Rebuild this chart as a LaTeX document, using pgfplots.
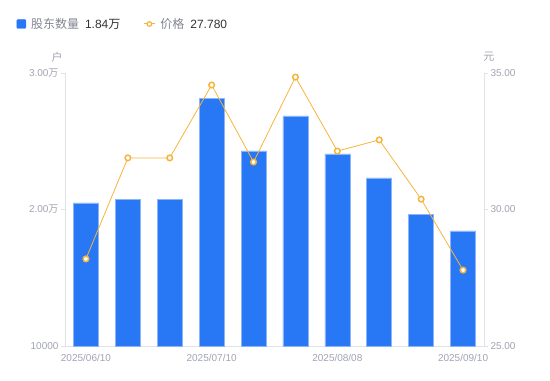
\documentclass[border=0pt]{standalone}
\usepackage{pgfplots}
\pgfplotsset{compat=1.18}
\usepackage{fontspec}
\setmainfont{Liberation Sans}
\newfontfamily\cjk{Noto Sans CJK SC}
\definecolor{barblue}{RGB}{40,120,245}
\definecolor{barborder}{RGB}{140,180,248}
\definecolor{lineorange}{RGB}{246,180,60}
\definecolor{axisgray}{RGB}{224,226,230}
\definecolor{tickgray}{RGB}{160,163,178}
\definecolor{leggray}{RGB}{130,133,145}
\definecolor{darktext}{RGB}{50,50,55}
\begin{document}
\begin{tikzpicture}
\useasboundingbox (0,0) rectangle (550bp,381bp);
\begin{axis}[
  at={(65bp,35bp)}, anchor=south west,
  scale only axis, width=419bp, height=273bp,
  xmin=-0.5, xmax=9.5, ymin=10000, ymax=30000,
  axis y line*=left, axis x line*=bottom,
  axis line style={axisgray, line width=0.8pt, -},
  xtick={0,3,6,9},
  xticklabels={2025/06/10,2025/07/10,2025/08/08,2025/09/10},
  x tick style={draw=none},
  ytick={10000,20000,30000},
  scaled y ticks=false,
  yticklabels={10000,2.00{\cjk 万},3.00{\cjk 万}},
  y tick style={axisgray, line width=0.8pt},
  major tick length=4bp,
  tick align=outside,
  ticklabel style={font=\fontsize{10bp}{12bp}\selectfont, text=tickgray},
  yticklabel style={xshift=1bp},
  xticklabel style={yshift=-1bp},
  clip=false,
]
\addplot[ybar, bar width=25bp, fill=barblue, draw=barborder, line width=0.6pt] coordinates {
 (0,20476) (1,20769) (2,20769) (3,28168) (4,24286) (5,26850) (6,24066) (7,22308) (8,19670) (9,18425)};
\node[font=\cjk\fontsize{11bp}{13bp}\selectfont, text=tickgray] at (rel axis cs:-0.019,1.0586) {户};
\node[font=\cjk\fontsize{11bp}{13bp}\selectfont, text=tickgray] at (rel axis cs:1.0119,1.0586) {元};
\end{axis}
\begin{axis}[
  at={(65bp,35bp)}, anchor=south west,
  scale only axis, width=419bp, height=273bp,
  xmin=-0.5, xmax=9.5, ymin=25, ymax=35,
  axis y line*=right, axis x line=none,
  axis line style={axisgray, line width=0.8pt, -},
  ytick={25,30,35},
  yticklabels={25.00,30.00,35.00},
  y tick style={axisgray, line width=0.8pt},
  major tick length=4bp,
  tick align=outside,
  ticklabel style={font=\fontsize{10bp}{12bp}\selectfont, text=tickgray},
  yticklabel style={xshift=-1bp},
  clip=false,
  legend style={at={(-0.123,1.1795)}, anchor=west, draw=none, fill=none,
    legend columns=2, font=\fontsize{12bp}{14bp}\selectfont,
    /tikz/every even column/.append style={column sep=21bp},
    nodes={inner sep=2bp}},
  legend cell align=left,
]
\addlegendimage{legend image code/.code={\fill[barblue, rounded corners=1bp] (0bp,-4.5bp) rectangle (9bp,4.5bp);}}
\addlegendentry{\hspace{3bp}{\color{leggray}\cjk 股东数量}\hspace{6bp}{\color{darktext}1.84{\cjk 万}}}
\addplot[lineorange, line width=0.8pt, mark=*, mark size=2.8bp,
  mark options={fill=white, draw=lineorange, line width=1.5pt},
  legend image code/.code={\draw[lineorange, line width=1pt] (0bp,0bp)--(11bp,0bp); \draw[lineorange, fill=white, line width=1.2pt] (5.5bp,0bp) circle (2.3bp);}]
 coordinates {(0,28.19) (1,31.89) (2,31.89) (3,34.56) (4,31.74) (5,34.85) (6,32.14) (7,32.55) (8,30.38) (9,27.78)};
\addlegendentry{\hspace{3bp}{\color{leggray}\cjk 价格}\hspace{6bp}{\color{darktext}27.780}}
\end{axis}
\end{tikzpicture}
\end{document}
